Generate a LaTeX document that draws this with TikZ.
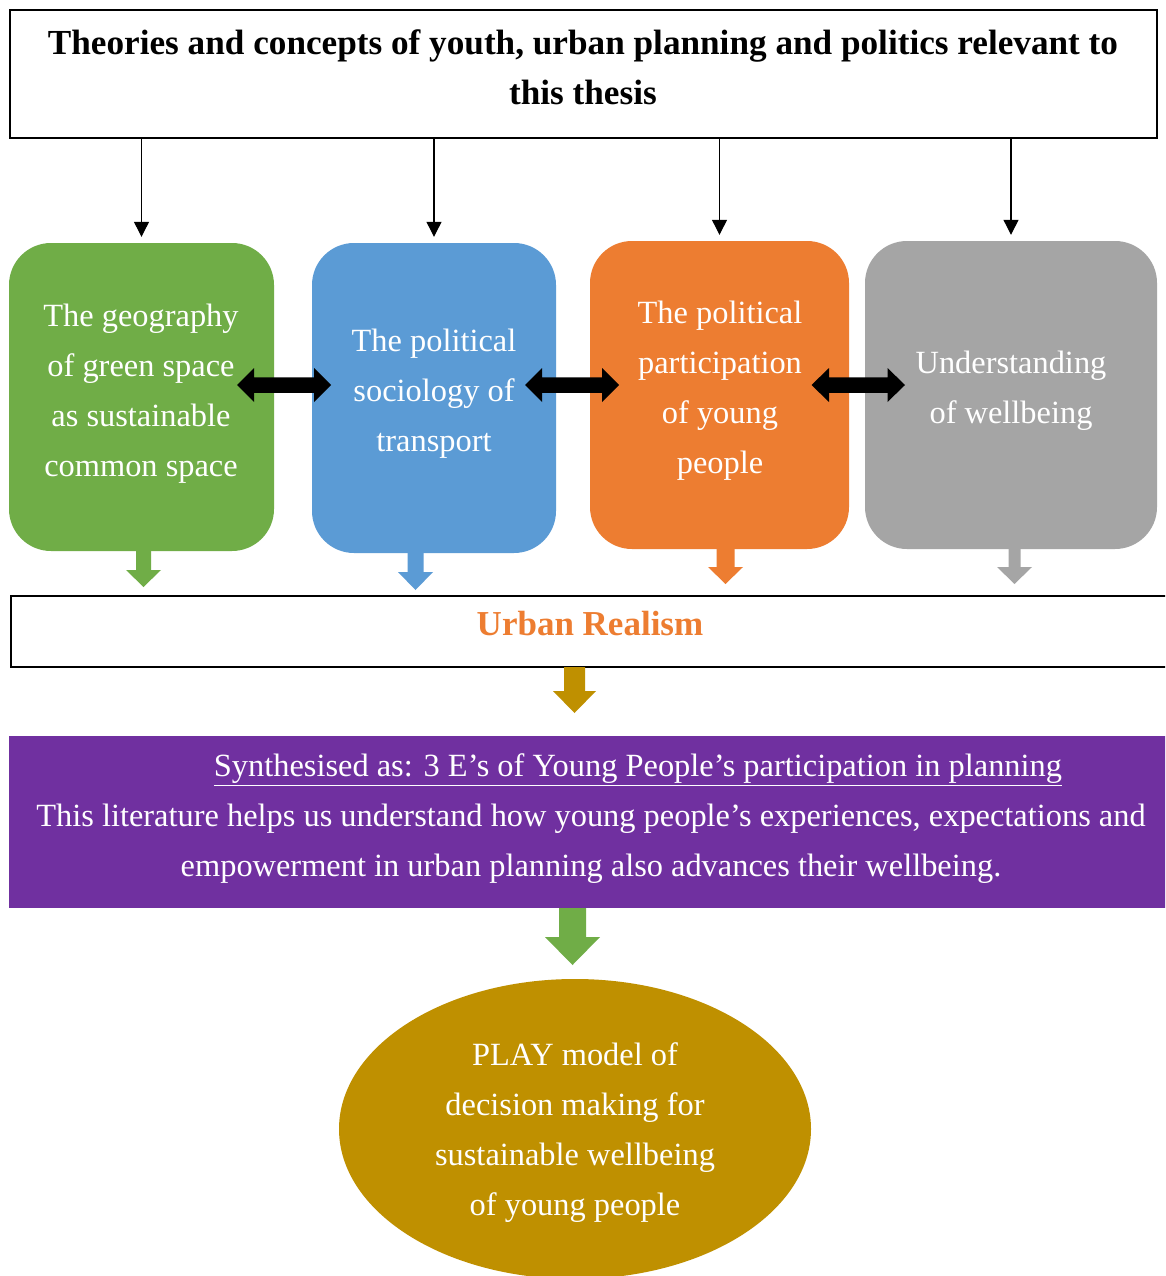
\documentclass[tikz,border=0pt]{standalone}
\usepackage{fontspec}
\setmainfont{Liberation Serif}
\usetikzlibrary{arrows.meta,shapes.geometric,calc}

\definecolor{cgreen}{HTML}{70AD47}
\definecolor{cblue}{HTML}{5B9BD5}
\definecolor{corange}{HTML}{ED7D31}
\definecolor{cgray}{HTML}{A5A5A5}
\definecolor{cpurple}{HTML}{7030A0}
\definecolor{cgold}{HTML}{BF9000}

\tikzset{
  bodyfont/.style={font=\fontsize{32.4}{50}\selectfont},
  titlefont/.style={font=\bfseries\fontsize{35.2}{50}\selectfont},
  frame/.style={draw=black, line width=2pt, inner sep=0pt},
  themebox/.style={rounded corners=42pt, inner sep=0pt},
  boxtext/.style={bodyfont, text=white, align=center, inner sep=0pt},
  thinarrow/.style={line width=1.2pt, -{Triangle[width=15pt,length=15pt]}},
  % vertical block arrow: #1 shaft width, #2 head width, #3 head length
  downblock/.style n args={3}{to path={let \p1=(\tikztostart), \p2=(\tikztotarget) in
    (\x1-#1/2,\y1) -- (\x1+#1/2,\y1) -- (\x1+#1/2,\y2+#3) -- (\x1+#2/2,\y2+#3)
    -- (\x1,\y2) -- (\x1-#2/2,\y2+#3) -- (\x1-#1/2,\y2+#3) -- cycle}},
  % horizontal two-headed block arrow: #1 shaft thickness, #2 head height, #3 head length
  twoblock/.style n args={3}{to path={let \p1=(\tikztostart), \p2=(\tikztotarget) in
    (\x1,\y1) -- (\x1+#3,\y1+#2/2) -- (\x1+#3,\y1+#1/2) -- (\x2-#3,\y1+#1/2)
    -- (\x2-#3,\y1+#2/2) -- (\x2,\y1) -- (\x2-#3,\y1-#2/2) -- (\x2-#3,\y1-#1/2)
    -- (\x1+#3,\y1-#1/2) -- (\x1+#3,\y1-#2/2) -- cycle}},
}

\begin{document}
\begin{tikzpicture}[x=1pt,y=-1pt]
\clip (0,0) rectangle (1165,1276);
\fill[white] (0,0) rectangle (1165,1276);

% heading frame
\node[frame, minimum width=1147pt, minimum height=128pt] (title) at (583.5,74) {};
\node[titlefont, align=center, inner sep=0pt] (titletxt) at (583,67)
  {Theories and concepts of youth, urban planning and politics relevant to\\this thesis};

% four theme boxes
\node[themebox, fill=cgreen,  minimum width=265pt, minimum height=308pt] (geo)  at (141.5,397) {};
\node[themebox, fill=cblue,   minimum width=244pt, minimum height=310pt] (soc)  at (434,398) {};
\node[themebox, fill=corange, minimum width=259pt, minimum height=308pt] (pol)  at (719.5,395) {};
\node[themebox, fill=cgray,   minimum width=292pt, minimum height=308pt] (well) at (1011,395) {};

\node[boxtext] (geotxt)  at (141,394) {The geography\\of green space\\as sustainable\\common space};
\node[boxtext] (soctxt)  at (434,394) {The political\\sociology of\\transport};
\node[boxtext] (poltxt)  at (720,391) {The political\\participation\\of young\\people};
\node[boxtext] (welltxt) at (1011,391) {Understanding\\of wellbeing};

% arrows from the heading to each theme
\foreach \b in {geo,soc,pol,well}
  \draw[thinarrow, shorten >=6pt] (title.south -| \b.north) -- (\b.north);

% two-headed links between neighbouring themes
\coordinate (l1a) at (237,385);   \coordinate (l1b) at (331,385);
\coordinate (l2a) at (525,385);   \coordinate (l2b) at (619,385);
\coordinate (l3a) at (811.5,385); \coordinate (l3b) at (905,385);
\fill[black] (l1a) to[twoblock={15.5}{34}{17}] (l1b);
\fill[black] (l2a) to[twoblock={15.5}{34}{17}] (l2b);
\fill[black] (l3a) to[twoblock={15.5}{34}{17.5}] (l3b);

% urban realism band
\node[draw=black, line width=1.6pt, minimum width=1170pt, minimum height=71pt, anchor=west, inner sep=0pt] (urban) at (10,631.5) {};
\node[font=\bfseries\fontsize{35}{40}\selectfont, text=corange, inner sep=0pt] (urbantxt) at (590,624) {Urban Realism};

% theme arrows into the band
\coordinate (ga) at (143.5,551);  \coordinate (gb) at (143.5,587);
\coordinate (ba) at (415.5,553);  \coordinate (bb) at (415.5,590);
\coordinate (oa) at (725.5,549);  \coordinate (ob) at (725.5,584);
\coordinate (ya) at (1014.5,549); \coordinate (yb) at (1014.5,584);
\fill[cgreen]  (ga) to[downblock={15}{35}{17}] (gb);
\fill[cblue]   (ba) to[downblock={16}{35}{18}] (bb);
\fill[corange] (oa) to[downblock={18}{35}{17}] (ob);
\fill[cgray]   (ya) to[downblock={12}{35}{17}] (yb);

% synthesis band
\node[fill=cpurple, minimum width=1170pt, minimum height=172pt, anchor=west, inner sep=0pt] (synth) at (9,822) {};
\node[bodyfont, text=white, align=center, inner sep=0pt] (synthtxt) at (591,819)
  {\hspace*{94pt}\underline{Synthesised as: 3 E’s of Young People’s participation in planning}\\
   This literature helps us understand how young people’s experiences, expectations and\\
   empowerment in urban planning also advances their wellbeing.};

\coordinate (ua) at (574.5,667); \coordinate (ub) at (574.5,713);
\fill[cgold] (ua) to[downblock={21}{43}{22}] (ub);

% PLAY model
\node[ellipse, fill=cgold, minimum width=472pt, minimum height=300pt, inner sep=0pt] (play) at (575,1129) {};
\node[boxtext] (playtxt) at (575,1132.5)
  {PLAY model of\\decision making for\\sustainable wellbeing\\of young people};

\coordinate (sa) at (572.5,908); \coordinate (sb) at (572.5,965);
\fill[cgreen] (sa) to[downblock={27}{55}{28}] (sb);
\end{tikzpicture}
\end{document}
